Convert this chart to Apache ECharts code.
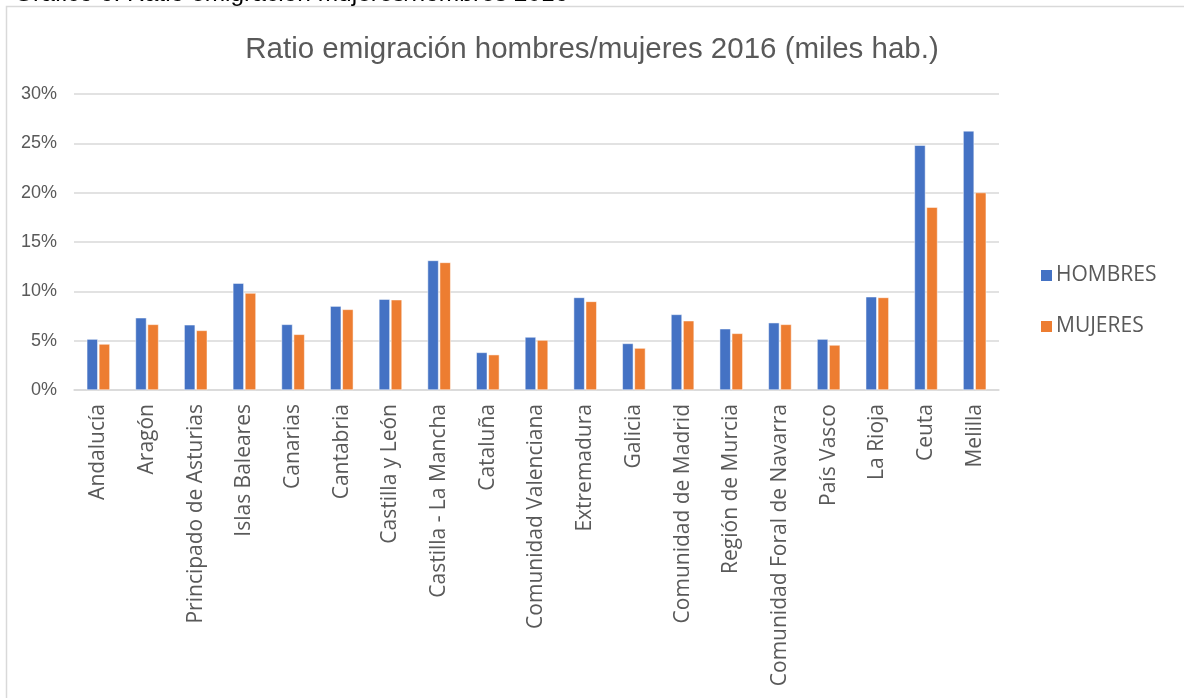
<!DOCTYPE html>
<html>
<head>
<meta charset="utf-8">
<script src="https://cdn.jsdelivr.net/npm/echarts@6/dist/echarts.min.js"></script>
<style>
html,body{margin:0;padding:0;background:#fff;}
#chart{width:1184px;height:698px;}
</style>
</head>
<body>
<div id="chart"></div>
<script>
const categories = ["Andalucía","Aragón","Principado de Asturias","Islas Baleares","Canarias","Cantabria","Castilla y León","Castilla - La Mancha","Cataluña","Comunidad Valenciana","Extremadura","Galicia","Comunidad de Madrid","Región de Murcia","Comunidad Foral de Navarra","País Vasco","La Rioja","Ceuta","Melilla"];
const hombres = [5.16,7.32,6.61,10.83,6.65,8.50,9.21,13.13,3.81,5.37,9.38,4.72,7.66,6.21,6.82,5.16,9.45,24.81,26.26];
const mujeres = [4.66,6.65,6.04,9.82,5.64,8.17,9.15,12.93,3.58,5.06,8.98,4.25,7.02,5.74,6.65,4.56,9.38,18.53,20.01];
const yTicks = [0,5,10,15,20,25,30];
const seriesNames = ["HOMBRES","MUJERES"];
const chartTitle = "Ratio emigración hombres/mujeres 2016 (miles hab.)";
const captionText = "Gráfico 6. Ratio emigración mujeres/hombres 2016";

const chart = echarts.init(document.getElementById('chart'), null, {renderer:'canvas'});
const labelColor = '#595959';
chart.setOption({
  animation:false,
  backgroundColor:'#fff',
  graphic:[
    {type:'rect', silent:true, shape:{x:6.5,y:6.5,width:1400,height:900}, style:{fill:'none',stroke:'#d9d9d9',lineWidth:1.5}},
    {type:'text', x:14, y:6.5, style:{text:captionText, verticalAlign:'bottom', font:'24.5px "Liberation Sans", Arial, sans-serif', fill:'#000'}}
  ],
  title:{
    text:chartTitle, left:'center', top:30,
    textStyle:{fontFamily:'"Liberation Sans", Arial, sans-serif', fontSize:29.5, fontWeight:'normal', color:labelColor}
  },
  legend:{
    data:seriesNames, orient:'vertical', left:1034, top:260,
    itemWidth:13, itemHeight:13, itemGap:30, icon:'rect',
    textStyle:{fontFamily:'"Open Sans", sans-serif', fontSize:21, color:labelColor, padding:[0,0,0,-2]}
  },
  grid:{left:74, right:185, top:94, bottom:308, containLabel:false},
  xAxis:{
    type:'category', data:categories,
    axisLine:{lineStyle:{color:'#d9d9d9', width:1.5}},
    axisTick:{show:false},
    axisLabel:{rotate:90, interval:0, margin:14, fontFamily:'"Open Sans", sans-serif', fontSize:21, color:labelColor}
  },
  yAxis:{
    type:'value', min:0, max:30, interval:5,
    axisLine:{show:false}, axisTick:{show:false},
    splitLine:{lineStyle:{color:'#d9d9d9', width:1.5}},
    axisLabel:{fontFamily:'"Liberation Sans", Arial, sans-serif', fontSize:18, color:labelColor, margin:17,
      formatter:function(v){ return yTicks.indexOf(v)>=0 ? v+'%' : ''; }}
  },
  series:[
    {name:seriesNames[0], type:'bar', data:hombres, barWidth:11, barGap:'10%', itemStyle:{color:'#4472C4', borderColor:'#fff', borderWidth:0.5}},
    {name:seriesNames[1], type:'bar', data:mujeres, barWidth:11, barGap:'10%', itemStyle:{color:'#ED7D31', borderColor:'#fff', borderWidth:0.5}}
  ]
});
</script>
</body>
</html>
